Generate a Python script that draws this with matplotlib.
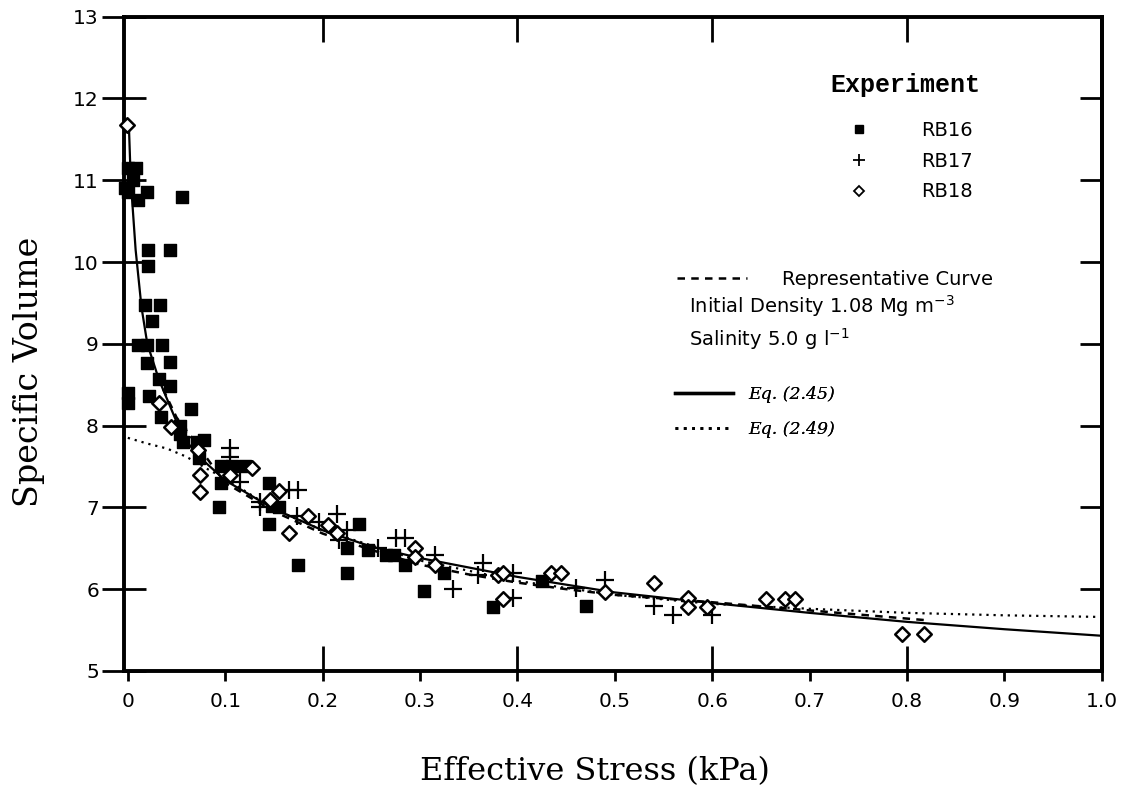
import matplotlib
matplotlib.use("Agg")
import matplotlib.pyplot as plt
from matplotlib.lines import Line2D

# ---------------- data ----------------
rb16_x = [0.0, 0.008, -0.003, 0.005, 0.0, 0.02, 0.01, 0.056, 0.021, 0.043, 0.021,
          0.018, 0.033, 0.025, 0.01, 0.02, 0.035, 0.02, 0.043, 0.032, 0.043, 0.0,
          0.0, 0.022, 0.034, 0.065, 0.054, 0.054, 0.057, 0.071, 0.078, 0.073,
          0.096, 0.107, 0.12, 0.096, 0.094, 0.145, 0.148, 0.155, 0.145, 0.175,
          0.237, 0.225, 0.225, 0.247, 0.265, 0.273, 0.285, 0.304, 0.375, 0.325,
          0.425, 0.47]
rb16_y = [11.15, 11.15, 10.9, 11.0, 10.86, 10.86, 10.76, 10.8, 10.15, 10.15, 9.95,
          9.47, 9.47, 9.28, 8.98, 8.98, 8.98, 8.77, 8.78, 8.57, 8.48, 8.4,
          8.28, 8.36, 8.1, 8.2, 8.0, 7.9, 7.8, 7.8, 7.82, 7.6,
          7.5, 7.5, 7.5, 7.3, 7.0, 7.3, 7.02, 7.0, 6.8, 6.3,
          6.8, 6.5, 6.2, 6.48, 6.42, 6.42, 6.3, 5.98, 5.78, 6.2,
          6.1, 5.8]

rb17_x = [0.105, 0.105, 0.115, 0.136, 0.136, 0.165, 0.175, 0.174, 0.196, 0.215,
          0.225, 0.217, 0.257, 0.275, 0.285, 0.315, 0.334, 0.365, 0.36, 0.395,
          0.395, 0.46, 0.49, 0.54, 0.56, 0.6]
rb17_y = [7.72, 7.62, 7.31, 7.07, 7.0, 7.21, 7.21, 6.9, 6.82, 6.92,
          6.72, 6.6, 6.5, 6.63, 6.63, 6.42, 6.0, 6.32, 6.17, 6.2,
          5.89, 6.02, 6.11, 5.79, 5.68, 5.68]

rb18_x = [-0.001, 0.032, 0.044, 0.072, 0.074, 0.074, 0.127, 0.105, 0.155, 0.146,
          0.165, 0.185, 0.206, 0.215, 0.295, 0.295, 0.315, 0.38, 0.385, 0.385,
          0.435, 0.445, 0.49, 0.54, 0.575, 0.575, 0.595, 0.655, 0.675, 0.685,
          0.795, 0.818]
rb18_y = [11.67, 8.28, 7.98, 7.7, 7.39, 7.19, 7.48, 7.39, 7.2, 7.09,
          6.69, 6.9, 6.79, 6.69, 6.5, 6.39, 6.3, 6.17, 6.2, 5.88,
          6.2, 6.2, 5.97, 6.08, 5.89, 5.78, 5.78, 5.88, 5.88, 5.88,
          5.45, 5.45]

# Eq. (2.45) solid curve
eq45_x = [0.001, 0.003, 0.008, 0.014, 0.02, 0.032, 0.045, 0.057, 0.075, 0.1,
          0.15, 0.2, 0.25, 0.3, 0.4, 0.5, 0.6, 0.7, 0.8, 0.9, 1.0]
eq45_y = [11.7, 11.0, 10.15, 9.45, 9.0, 8.56, 8.19, 7.85, 7.6, 7.33,
          6.98, 6.72, 6.52, 6.38, 6.15, 5.96, 5.83, 5.71, 5.6, 5.51, 5.43]

# Eq. (2.49) dotted curve
eq49_x = [0.0, 0.02, 0.04, 0.06, 0.08, 0.1, 0.15, 0.2, 0.3, 0.4, 0.5, 0.6,
          0.7, 0.8, 0.9, 1.0]
eq49_y = [7.85, 7.78, 7.72, 7.62, 7.48, 7.35, 6.98, 6.72, 6.35, 6.1, 5.93,
          5.82, 5.76, 5.71, 5.68, 5.66]

# Representative curve (dashed)
rep_x = [0.03, 0.05, 0.1, 0.15, 0.2, 0.25, 0.3, 0.35, 0.4, 0.45, 0.5, 0.6,
         0.7, 0.82]
rep_y = [8.6, 8.1, 7.3, 6.95, 6.68, 6.48, 6.3, 6.18, 6.08, 6.0, 5.93, 5.84,
         5.74, 5.62]

x_ticks = [0, 0.1, 0.2, 0.3, 0.4, 0.5, 0.6, 0.7, 0.8, 0.9, 1.0]
x_tick_labels = ["0", "0.1", "0.2", "0.3", "0.4", "0.5", "0.6", "0.7", "0.8",
                 "0.9", "1.0"]
x_long_ticks = [0.2, 0.4, 0.6, 0.8]
y_ticks = [5, 6, 7, 8, 9, 10, 11, 12, 13]

# ---------------- figure ----------------
fig = plt.figure(figsize=(11.37, 7.94), dpi=100)
ax = fig.add_axes([0.109, 0.155, 0.860, 0.824])
ax.set_xlim(-0.004, 1.0)
ax.set_ylim(5, 13)

ax.plot(eq45_x, eq45_y, color="black", lw=1.6, zorder=3)
ax.plot(eq49_x, eq49_y, color="black", lw=1.6, linestyle=(0, (1, 2.2)), zorder=3)
ax.plot(rep_x, rep_y, color="black", lw=1.8, linestyle=(0, (3, 2.5)), zorder=3)

ax.scatter(rb16_x, rb16_y, marker="s", s=85, color="black", zorder=4, clip_on=False)
ax.scatter(rb17_x, rb17_y, marker="+", s=150, color="black", linewidths=1.6, zorder=4)
ax.scatter(rb18_x, rb18_y, marker="D", s=55, facecolors="white", edgecolors="black",
           linewidths=1.8, zorder=5, clip_on=False)

for sp in ax.spines.values():
    sp.set_linewidth(2.8)

tick_font = dict(family="DejaVu Sans", size=14.5)
ax.set_xticks(x_ticks)
ax.set_xticklabels(x_tick_labels, **tick_font)
ax.set_xticks(x_long_ticks, minor=True)
ax.xaxis.remove_overlapping_locs = False
ax.tick_params(axis="x", which="major", direction="out", length=7, width=2, pad=8)
ax.tick_params(axis="x", which="minor", direction="in", length=18, width=2,
               top=True, bottom=True)
ax.set_yticks(y_ticks)
ax.set_yticklabels([str(v) for v in y_ticks], **tick_font)
ax.tick_params(axis="y", which="major", direction="inout", length=32, width=2, pad=2)

sec = ax.secondary_yaxis("right")
sec.set_yticks(y_ticks[1:-1])
sec.tick_params(direction="in", length=16, width=2, labelright=False)
sec.spines["right"].set_linewidth(2.8)

ax.set_xlabel("Effective Stress (kPa)", family="DejaVu Serif", fontsize=23)
ax.set_ylabel("Specific Volume", family="DejaVu Serif", fontsize=24)
ax.xaxis.set_label_coords(0.482, -0.13)
ax.yaxis.set_label_coords(-0.081, 0.457)

# legend: experiments
h_exp = [Line2D([], [], marker="s", ls="none", color="black", markersize=6),
         Line2D([], [], marker="+", ls="none", color="black", markersize=8, mew=1.3),
         Line2D([], [], marker="D", ls="none", markerfacecolor="white",
                markeredgecolor="black", markersize=5, mew=1.3)]
leg1 = ax.legend(h_exp, ["RB16", "RB17", "RB18"], loc="upper left",
                 bbox_to_anchor=(0.705, 0.94), frameon=False,
                 title="Experiment", handletextpad=2.2, labelspacing=0.6,
                 prop=dict(family="DejaVu Sans", size=14))
leg1.get_title().set_fontfamily("Liberation Mono")
leg1.get_title().set_fontweight("bold")
leg1.get_title().set_fontsize(18)
leg1._legend_box.sep = 17
ax.add_artist(leg1)

# legend: representative curve
h_rep = [Line2D([], [], color="black", lw=1.8, linestyle=(0, (3, 2.5)))]
leg2 = ax.legend(h_rep, ["Representative Curve"], loc="upper left",
                 bbox_to_anchor=(0.548, 0.64), frameon=False, handlelength=3.6,
                 handletextpad=1.8, prop=dict(family="DejaVu Sans", size=14))
ax.add_artist(leg2)
ax.text(0.578, 0.558, "Initial Density 1.08 Mg m$^{-3}$", transform=ax.transAxes,
        family="DejaVu Sans", fontsize=14, va="center")
ax.text(0.578, 0.508, "Salinity 5.0 g l$^{-1}$", transform=ax.transAxes,
        family="DejaVu Sans", fontsize=14, va="center")

# legend: equations
h_eq = [Line2D([], [], color="black", lw=2.4),
        Line2D([], [], color="black", lw=2.0, linestyle=(0, (1, 2)))]
leg3 = ax.legend(h_eq, ["Eq. (2.45)", "Eq. (2.49)"], loc="upper left",
                 bbox_to_anchor=(0.548, 0.46), frameon=False, handlelength=3.3,
                 handletextpad=0.9, labelspacing=1.05,
                 prop=dict(family="DejaVu Serif", style="italic", size=12.5))
ax.add_artist(leg3)

fig.savefig("out.png", dpi=100)
